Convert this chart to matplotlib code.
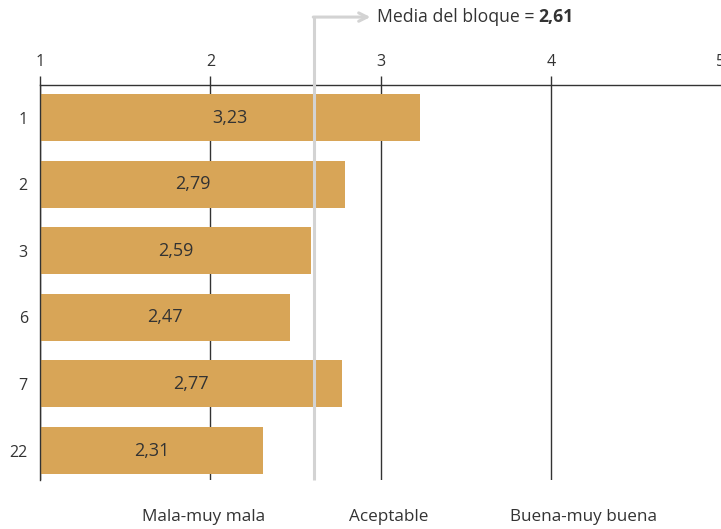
import matplotlib
matplotlib.use("Agg")
import matplotlib.pyplot as plt
import matplotlib.transforms as mtransforms

plt.rcParams['font.family'] = ['Open Sans', 'DejaVu Sans']

# data
grupos = ['1', '2', '3', '6', '7', '22']
valores = [3.23, 2.79, 2.59, 2.47, 2.77, 2.31]
media = 2.61
categorias = ['Mala-muy mala', 'Aceptable', 'Buena-muy buena']
pos_categorias = [1.96, 3.05, 4.19]

color_barra = '#D8A557'
color_texto = '#333333'
gris = '#D3D3D3'

fig = plt.figure(figsize=(7.21, 5.29), dpi=100)
ax = fig.add_axes([0.0559, 0.0926, 0.9441, 0.7467])

y = list(range(len(grupos)))
ax.barh(y, [v - 1 for v in valores], left=1, height=0.705, color=color_barra, zorder=2)

for yi, v in zip(y, valores):
    ax.text((1 + v) / 2, yi, f'{v:.2f}'.replace('.', ','), ha='center', va='center',
            fontsize=13, color=color_texto, zorder=4)

ax.set_xlim(1, 5)
ax.set_ylim(5.443, -0.488)
ax.set_yticks(y)
ax.set_yticklabels(grupos)
ax.set_xticks([1, 2, 3, 4, 5])
ax.xaxis.tick_top()
ax.tick_params(axis='x', length=6.5, width=1, color=color_texto, pad=4,
               labelsize=11.5, labelcolor=color_texto)
ax.tick_params(axis='y', length=0, pad=9, labelsize=11.5, labelcolor=color_texto)

for s in ['right', 'bottom']:
    ax.spines[s].set_visible(False)
for s in ['top', 'left']:
    ax.spines[s].set_color(color_texto)
    ax.spines[s].set_linewidth(1)
    ax.spines[s].set_zorder(3)

ax.grid(axis='x', color=color_texto, linewidth=1, zorder=1)
ax.set_axisbelow(True)
# sin linea ni marca en el 5
ax.xaxis.get_gridlines()[-1].set_visible(False)
ax.xaxis.get_major_ticks()[-1].tick2line.set_visible(False)

# linea de la media con flecha
trans = mtransforms.blended_transform_factory(ax.transData, ax.transAxes)
ax.plot([media, media], [0, 1.172], transform=trans, color=gris, linewidth=2.2,
        clip_on=False, zorder=5, solid_capstyle='butt')
ax.annotate('', xy=(2.94, 1.172), xycoords=trans, xytext=(media - 0.006, 1.172), textcoords=trans,
            arrowprops=dict(arrowstyle='->,head_length=0.6,head_width=0.3', color=gris, lw=2.2,
                            shrinkA=0, shrinkB=0), zorder=5)
t1 = ax.text(2.976, 1.172, 'Media del bloque = ', transform=trans, ha='left', va='center',
             fontsize=12.7, color=color_texto)
ax.annotate(f'{media:.2f}'.replace('.', ','), xy=(1, 0.5), xycoords=t1, ha='left', va='center',
            fontsize=12.7, fontweight='bold', color=color_texto)

for c, p in zip(categorias, pos_categorias):
    ax.text(p, -0.094, c, transform=trans, ha='center', va='center', fontsize=12.3,
            color=color_texto)

fig.savefig('out.png', dpi=100)
